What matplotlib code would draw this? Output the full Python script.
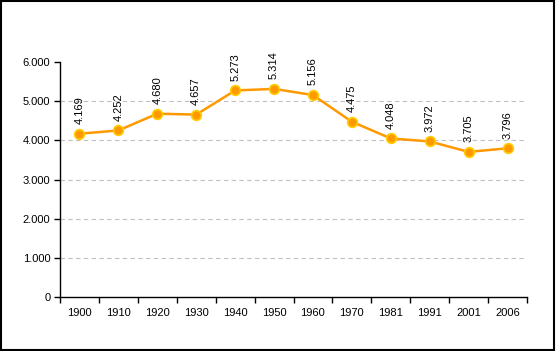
import matplotlib.pyplot as plt
import numpy as np
from matplotlib.patches import Rectangle

years = ["1900", "1910", "1920", "1930", "1940", "1950", "1960",
         "1970", "1981", "1991", "2001", "2006"]
population = [4169, 4252, 4680, 4657, 5273, 5314, 5156,
              4475, 4048, 3972, 3705, 3796]
labels = ["4.169", "4.252", "4.680", "4.657", "5.273", "5.314", "5.156",
          "4.475", "4.048", "3.972", "3.705", "3.796"]
yticks = [0, 1000, 2000, 3000, 4000, 5000, 6000]
ytick_labels = ["0", "1.000", "2.000", "3.000", "4.000", "5.000", "6.000"]

plt.rcParams['font.family'] = ['Liberation Sans', 'DejaVu Sans']

fig = plt.figure(figsize=(5.56, 3.51), dpi=100)
ax = fig.add_axes([60 / 556, 1 - 297 / 351, 467 / 556, 235 / 351])

x = np.arange(len(years))
ax.plot(x, population, color="#FF9900", lw=1.8, marker="o", ms=7,
        markerfacecolor="#FF9900", markeredgecolor="#FFCC00", mew=1.2, zorder=3)

for xi, yi, lab in zip(x, population, labels):
    ax.annotate(lab, (xi, yi), xytext=(0, 7), textcoords="offset points",
                rotation=90, ha="center", va="bottom", fontsize=8)

ax.set_xlim(-0.5, len(years) - 0.5)
ax.set_ylim(0, 6000)
ax.set_yticks(yticks)
ax.set_yticklabels(ytick_labels, fontsize=8)
ax.set_xticks(x)
ax.set_xticklabels(years, fontsize=8)
ax.set_xticks(np.arange(-0.5, len(years)), minor=True)
ax.tick_params(axis="x", which="major", length=0, pad=8)
ax.tick_params(axis="x", which="minor", length=4, direction="out", width=1)
ax.tick_params(axis="y", length=4, direction="out", width=1, pad=3)

for g in yticks[1:-1]:
    ax.axhline(g, color="#C0C0C0", lw=0.8, ls=(0, (4, 3)), zorder=1)

for s in ["top", "right"]:
    ax.spines[s].set_visible(False)
for s in ["left", "bottom"]:
    ax.spines[s].set_linewidth(1)

fig.patches.append(Rectangle((0.002, 0.003), 0.995, 0.994, transform=fig.transFigure,
                             fill=False, edgecolor="black", lw=1.5))

fig.savefig("out.png", dpi=100)
